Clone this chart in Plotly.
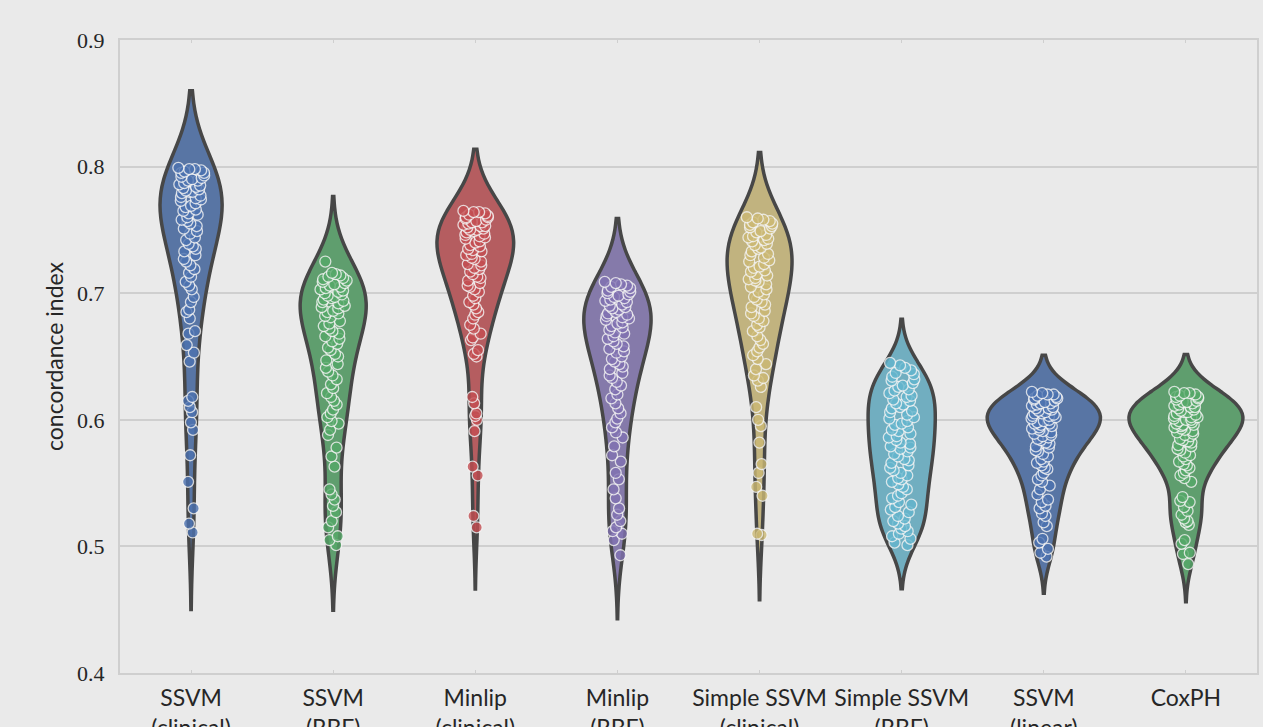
import numpy as np
import plotly.graph_objects as go

# Model names shown on the category axis
categories = [
    "SSVM<br>(clinical)", "SSVM<br>(RBF)", "Minlip<br>(clinical)", "Minlip<br>(RBF)",
    "Simple SSVM<br>(clinical)", "Simple SSVM<br>(RBF)", "SSVM<br>(linear)", "CoxPH",
]

# Concordance index per cross-validation run (80 runs per model)
ssvm_clinical = [
    0.799, 0.798, 0.798, 0.797, 0.796, 0.795, 0.795, 0.793, 0.792, 0.791, 0.790, 0.789,
    0.789, 0.787, 0.786, 0.785, 0.784, 0.783, 0.782, 0.781, 0.780, 0.780, 0.779, 0.777,
    0.776, 0.775, 0.774, 0.773, 0.771, 0.769, 0.768, 0.766, 0.765, 0.763, 0.762, 0.760,
    0.758, 0.757, 0.755, 0.753, 0.751, 0.749, 0.747, 0.744, 0.742, 0.739, 0.737, 0.735,
    0.733, 0.730, 0.727, 0.725, 0.722, 0.719, 0.716, 0.713, 0.709, 0.706, 0.703, 0.697,
    0.693, 0.687, 0.685, 0.680, 0.670, 0.668, 0.659, 0.653, 0.646, 0.618, 0.615, 0.610,
    0.606, 0.598, 0.592, 0.572, 0.551, 0.530, 0.518, 0.511,
]
ssvm_rbf = [
    0.725, 0.716, 0.715, 0.714, 0.713, 0.712, 0.711, 0.710, 0.709, 0.708, 0.707, 0.706,
    0.705, 0.704, 0.703, 0.702, 0.701, 0.700, 0.699, 0.698, 0.697, 0.696, 0.695, 0.694,
    0.693, 0.692, 0.690, 0.689, 0.688, 0.686, 0.685, 0.684, 0.682, 0.681, 0.678, 0.676,
    0.674, 0.672, 0.670, 0.668, 0.666, 0.664, 0.662, 0.660, 0.657, 0.655, 0.652, 0.650,
    0.647, 0.644, 0.641, 0.638, 0.635, 0.632, 0.628, 0.625, 0.621, 0.618, 0.615, 0.612,
    0.608, 0.605, 0.602, 0.599, 0.597, 0.592, 0.588, 0.578, 0.571, 0.563, 0.545, 0.541,
    0.537, 0.532, 0.527, 0.520, 0.515, 0.508, 0.505, 0.501,
]
minlip_clinical = [
    0.765, 0.764, 0.764, 0.763, 0.762, 0.761, 0.760, 0.760, 0.759, 0.758, 0.757, 0.756,
    0.756, 0.755, 0.754, 0.753, 0.753, 0.752, 0.751, 0.750, 0.750, 0.749, 0.748, 0.747,
    0.746, 0.745, 0.744, 0.743, 0.741, 0.740, 0.738, 0.737, 0.735, 0.734, 0.733, 0.731,
    0.730, 0.728, 0.727, 0.725, 0.723, 0.722, 0.720, 0.719, 0.717, 0.715, 0.713, 0.712,
    0.710, 0.708, 0.706, 0.705, 0.703, 0.701, 0.698, 0.696, 0.693, 0.691, 0.688, 0.685,
    0.683, 0.680, 0.675, 0.672, 0.668, 0.665, 0.663, 0.655, 0.652, 0.650, 0.618, 0.613,
    0.605, 0.603, 0.600, 0.591, 0.563, 0.556, 0.524, 0.515,
]
minlip_rbf = [
    0.709, 0.708, 0.707, 0.706, 0.705, 0.704, 0.702, 0.701, 0.700, 0.699, 0.698, 0.697,
    0.696, 0.695, 0.694, 0.693, 0.691, 0.690, 0.689, 0.688, 0.687, 0.685, 0.684, 0.683,
    0.682, 0.681, 0.680, 0.679, 0.677, 0.676, 0.674, 0.673, 0.671, 0.669, 0.668, 0.666,
    0.664, 0.662, 0.660, 0.658, 0.656, 0.654, 0.653, 0.650, 0.648, 0.646, 0.644, 0.642,
    0.640, 0.637, 0.635, 0.633, 0.630, 0.627, 0.624, 0.620, 0.617, 0.613, 0.609, 0.605,
    0.601, 0.598, 0.594, 0.590, 0.586, 0.579, 0.572, 0.567, 0.558, 0.553, 0.545, 0.538,
    0.530, 0.525, 0.520, 0.515, 0.512, 0.510, 0.505, 0.493,
]
simple_ssvm_clinical = [
    0.760, 0.759, 0.758, 0.757, 0.756, 0.755, 0.754, 0.753, 0.752, 0.751, 0.749, 0.748,
    0.746, 0.745, 0.744, 0.743, 0.742, 0.741, 0.739, 0.738, 0.736, 0.735, 0.733, 0.731,
    0.730, 0.728, 0.726, 0.725, 0.723, 0.721, 0.720, 0.718, 0.717, 0.715, 0.714, 0.712,
    0.711, 0.710, 0.709, 0.707, 0.705, 0.703, 0.701, 0.699, 0.697, 0.695, 0.693, 0.691,
    0.689, 0.686, 0.684, 0.682, 0.680, 0.678, 0.675, 0.673, 0.670, 0.666, 0.663, 0.660,
    0.657, 0.654, 0.651, 0.648, 0.644, 0.640, 0.635, 0.633, 0.631, 0.626, 0.610, 0.600,
    0.595, 0.582, 0.565, 0.558, 0.547, 0.540, 0.510, 0.509,
]
simple_ssvm_rbf = [
    0.645, 0.643, 0.641, 0.639, 0.637, 0.636, 0.634, 0.632, 0.631, 0.629, 0.627, 0.626,
    0.624, 0.623, 0.621, 0.619, 0.618, 0.616, 0.615, 0.613, 0.612, 0.610, 0.609, 0.607,
    0.606, 0.604, 0.602, 0.601, 0.599, 0.597, 0.596, 0.594, 0.592, 0.591, 0.589, 0.587,
    0.586, 0.584, 0.582, 0.581, 0.579, 0.578, 0.577, 0.575, 0.573, 0.571, 0.569, 0.568,
    0.566, 0.564, 0.562, 0.560, 0.558, 0.556, 0.554, 0.553, 0.551, 0.549, 0.547, 0.545,
    0.542, 0.540, 0.538, 0.535, 0.533, 0.531, 0.529, 0.527, 0.524, 0.522, 0.520, 0.518,
    0.516, 0.514, 0.512, 0.510, 0.508, 0.506, 0.503, 0.501,
]
ssvm_linear = [
    0.622, 0.621, 0.620, 0.620, 0.619, 0.618, 0.617, 0.617, 0.616, 0.615, 0.614, 0.613,
    0.613, 0.612, 0.611, 0.610, 0.609, 0.609, 0.608, 0.607, 0.606, 0.605, 0.605, 0.604,
    0.603, 0.603, 0.602, 0.601, 0.600, 0.599, 0.598, 0.597, 0.597, 0.596, 0.595, 0.594,
    0.593, 0.592, 0.591, 0.590, 0.589, 0.588, 0.587, 0.586, 0.585, 0.584, 0.582, 0.581,
    0.579, 0.578, 0.576, 0.575, 0.573, 0.571, 0.569, 0.567, 0.566, 0.564, 0.562, 0.561,
    0.558, 0.556, 0.553, 0.551, 0.548, 0.545, 0.541, 0.537, 0.535, 0.532, 0.530, 0.526,
    0.524, 0.519, 0.516, 0.506, 0.503, 0.498, 0.495, 0.492,
]
coxph = [
    0.622, 0.621, 0.621, 0.620, 0.619, 0.618, 0.618, 0.617, 0.616, 0.615, 0.614, 0.614,
    0.613, 0.612, 0.611, 0.610, 0.610, 0.609, 0.608, 0.607, 0.606, 0.606, 0.605, 0.604,
    0.603, 0.602, 0.602, 0.601, 0.600, 0.600, 0.599, 0.598, 0.597, 0.596, 0.596, 0.595,
    0.594, 0.593, 0.592, 0.591, 0.590, 0.589, 0.588, 0.587, 0.585, 0.584, 0.583, 0.582,
    0.580, 0.579, 0.577, 0.576, 0.574, 0.572, 0.571, 0.569, 0.567, 0.565, 0.564, 0.562,
    0.560, 0.558, 0.556, 0.554, 0.551, 0.539, 0.536, 0.535, 0.531, 0.528, 0.525, 0.522,
    0.520, 0.519, 0.517, 0.505, 0.502, 0.495, 0.494, 0.486,
]

series = [ssvm_clinical, ssvm_rbf, minlip_clinical, minlip_rbf,
          simple_ssvm_clinical, simple_ssvm_rbf, ssvm_linear, coxph]

# seaborn "deep" palette for the points, desaturated versions for the violin bodies
point_colors = ["#4C72B0", "#55A868", "#C44E52", "#8172B2", "#CCB974", "#64B5CD", "#4C72B0", "#55A868"]
fill_colors = ["#5875A4", "#5F9E6E", "#B55D60", "#857AAA", "#C1B37F", "#71AEC0", "#5875A4", "#5F9E6E"]

BG = "#EAEAEA"
GRID = "#CFCFCF"
INK = "#262626"

MAX_WIDTH = 0.8      # width of the violin with the highest density peak
STRIP_WIDTH = 0.19   # horizontal spread of the jittered points


def scott_bw(v):
    return v.std(ddof=1) * len(v) ** (-1 / 5)


def kde_peak(v, bw):
    grid = np.linspace(v.min() - 2 * bw, v.max() + 2 * bw, 600)
    z = (grid[:, None] - v[None, :]) / bw
    dens = np.exp(-0.5 * z ** 2).sum(axis=1) / (len(v) * bw * np.sqrt(2 * np.pi))
    return dens.max()


# Equal-area violins: each width is proportional to its own density peak
arrays = [np.asarray(s) for s in series]
bws = [scott_bw(v) for v in arrays]
peaks = np.array([kde_peak(v, b) for v, b in zip(arrays, bws)])
widths = MAX_WIDTH * peaks / peaks.max()

fig = go.Figure()
for cat, v, bw, w, pc, fc in zip(categories, arrays, bws, widths, point_colors, fill_colors):
    fig.add_trace(go.Violin(
        x=[cat] * len(v),
        y=v,
        name=cat,
        bandwidth=bw,
        spanmode="soft",
        scalemode="width",
        width=float(w),
        fillcolor=fc,
        line=dict(color="#474747", width=3.5),
        points="all",
        pointpos=0,
        jitter=float(min(1.0, STRIP_WIDTH / w)),
        marker=dict(color=pc, size=11, opacity=0.8,
                    line=dict(color="#F4F4F4", width=1.3)),
        box_visible=False,
        meanline_visible=False,
        showlegend=False,
        hoverinfo="y",
    ))

fig.update_layout(
    width=1263, height=727,
    margin=dict(l=120, r=6, t=40, b=54),
    paper_bgcolor=BG, plot_bgcolor=BG,
    violinmode="overlay",
    font=dict(family="Lato", color=INK),
)
fig.update_xaxes(
    type="category",
    categoryorder="array", categoryarray=categories,
    range=[-0.5, 7.5],
    automargin=False,
    showgrid=False, zeroline=False,
    showline=True, linecolor=GRID, linewidth=2, mirror="ticks",
    ticks="inside", ticklen=3, tickcolor=GRID, tickwidth=1,
    tickfont=dict(family="Lato", size=23, color=INK),
    ticklabelstandoff=3,
)
fig.update_yaxes(
    range=[0.4, 0.9], dtick=0.1, tickformat=".1f",
    automargin=False,
    showgrid=True, gridcolor=GRID, gridwidth=2, zeroline=False,
    showline=True, linecolor=GRID, linewidth=2, mirror=True,
    tickfont=dict(family="Liberation Serif, Times New Roman, serif", size=22, color=INK),
    ticklabelstandoff=9,
    title=dict(text="concordance index", font=dict(family="Lato", size=23, color=INK),
               standoff=7),
)

fig.write_html("out.html")
